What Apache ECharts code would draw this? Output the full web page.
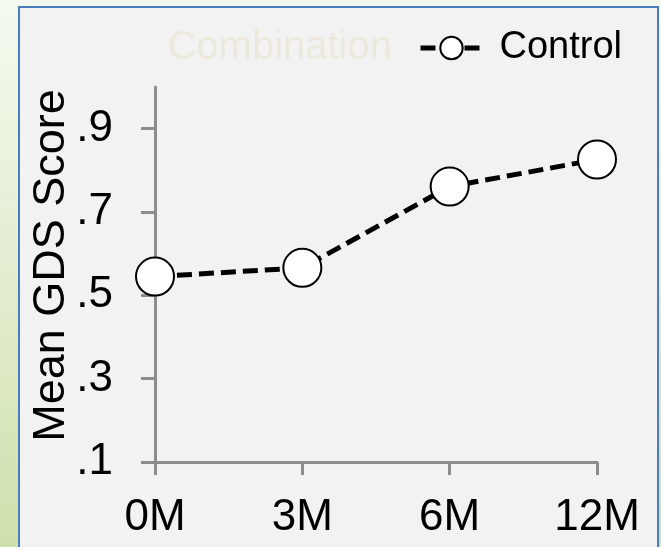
<!DOCTYPE html>
<html>
<head>
<meta charset="utf-8">
<script src="https://cdn.jsdelivr.net/npm/echarts@6/dist/echarts.min.js"></script>
<style>
  html, body { margin: 0; padding: 0; }
  body {
    width: 661px; height: 547px; overflow: hidden; position: relative;
    background: linear-gradient(to bottom, #f4f9ef 0%, #e3edd0 50%, #cfe0ac 100%);
  }
  #panel {
    position: absolute; left: 18px; top: 6px; width: 641px; height: 600px;
    box-sizing: border-box; border: 2.5px solid #4a7ebb; background: #f2f2f2;
  }
  #chart { position: absolute; left: 0; top: 0; width: 661px; height: 547px; }
</style>
</head>
<body>
<div id="panel"></div>
<div id="chart"></div>
<script>
// Time points, mean GDS scores and y-axis tick values
const categories = ['0M', '3M', '6M', '12M'];
const controlScores = [0.545, 0.566, 0.761, 0.826];
const combinationScores = [];
const yTicks = [0.1, 0.3, 0.5, 0.7, 0.9];

const font = 'Liberation Sans, Arial, sans-serif';
const axisGray = '#8c8c8c';

const chart = echarts.init(document.getElementById('chart'), null, { renderer: 'canvas' });

chart.setOption({
  backgroundColor: 'transparent',
  animation: false,
  textStyle: { fontFamily: font },
  legend: {
    right: 39,
    top: 28,
    padding: 0,
    itemGap: 26,
    itemWidth: 62,
    itemHeight: 28,
    lineStyle: { width: 5 },
    textStyle: { fontSize: 38, color: '#000', fontFamily: font, padding: [0, 0, 0, 12] },
    data: [
      { name: 'Combination', icon: 'none', textStyle: { color: '#ece8dc', fontSize: 40 } },
      { name: 'Control' }
    ]
  },
  grid: { left: 155, right: 64, top: 87, bottom: 85, outerBoundsMode: 'none', containLabel: false },
  xAxis: {
    type: 'category',
    data: categories,
    boundaryGap: false,
    axisLine: { lineStyle: { color: axisGray, width: 3 } },
    axisTick: { alignWithLabel: true, length: 13, lineStyle: { color: axisGray, width: 3 } },
    axisLabel: { color: '#000', fontSize: 44, fontFamily: font, margin: 34 },
    splitLine: { show: false }
  },
  yAxis: {
    type: 'value',
    min: 0.1,
    max: 1.0,
    interval: 0.2,
    name: 'Mean GDS Score',
    nameLocation: 'middle',
    nameRotate: 90,
    nameGap: 81,
    nameMoveOverlap: false,
    nameTextStyle: { color: '#000', fontSize: 45, fontFamily: font, padding: [0, 0, 0, 18] },
    axisLine: { show: true, lineStyle: { color: axisGray, width: 3 } },
    axisTick: { show: true, length: 14, customValues: yTicks, lineStyle: { color: axisGray, width: 3 } },
    axisLabel: {
      color: '#000', fontSize: 44, fontFamily: font, margin: 42,
      customValues: yTicks,
      formatter: v => String(v).replace(/^0/, '')
    },
    splitLine: { show: false }
  },
  series: [
    {
      name: 'Combination',
      type: 'line',
      data: combinationScores,
      symbol: 'none',
      lineStyle: { color: 'rgba(0,0,0,0)' },
      itemStyle: { color: 'rgba(0,0,0,0)' }
    },
    {
      name: 'Control',
      type: 'line',
      data: controlScores,
      symbol: 'circle',
      symbolSize: 38,
      lineStyle: { color: '#000', width: 5, type: [15, 7] },
      itemStyle: { color: '#fff', borderColor: '#000', borderWidth: 2 },
      z: 3
    }
  ]
});
</script>
</body>
</html>
